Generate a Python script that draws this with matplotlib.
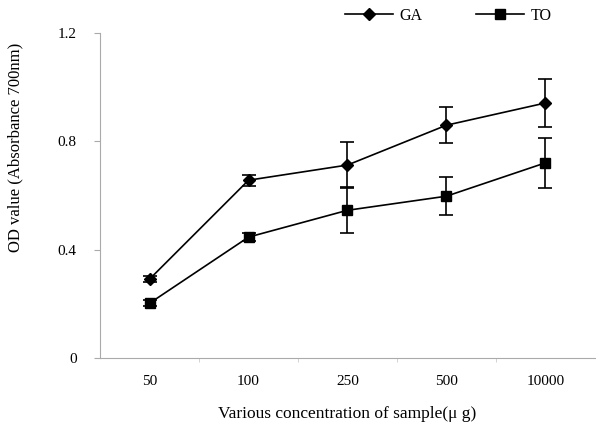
import matplotlib
matplotlib.use('Agg')
import matplotlib.pyplot as plt
from matplotlib.lines import Line2D
import numpy as np

categories = ['50', '100', '250', '500', '10000']
ga_values = [0.292, 0.657, 0.713, 0.860, 0.942]
ga_errors = [0.012, 0.020, 0.084, 0.067, 0.090]
to_values = [0.203, 0.447, 0.546, 0.598, 0.721]
to_errors = [0.010, 0.015, 0.085, 0.070, 0.093]
y_ticks = [0, 0.4, 0.8, 1.2]

plt.rcParams['font.family'] = ['Liberation Serif', 'DejaVu Serif']

fig = plt.figure(figsize=(5.96, 4.3), dpi=100)
ax = fig.add_axes([0.168, 0.167, 0.83, 0.756])

x = np.arange(len(categories))
ax.errorbar(x, ga_values, yerr=ga_errors, color='black', marker='D', markersize=6,
            linewidth=1.2, elinewidth=1.2, capsize=5, capthick=1.2)
ax.errorbar(x, to_values, yerr=to_errors, color='black', marker='s', markersize=7,
            linewidth=1.2, elinewidth=1.2, capsize=5, capthick=1.2)

ax.set_xlim(-0.5, len(categories) - 0.5)
ax.set_ylim(0, 1.2)
ax.set_yticks(y_ticks)
ax.set_yticklabels(['0', '0.4', '0.8', '1.2'])
ax.set_xticks(x)
ax.set_xticklabels(categories)
ax.set_xticks(np.arange(0.5, len(categories) - 0.5, 1), minor=True)
ax.tick_params(axis='x', which='major', length=0, pad=12, labelsize=11)
ax.tick_params(axis='x', which='minor', length=3, color='#cccccc')
ax.tick_params(axis='y', length=4, color='#aaaaaa', labelsize=11, pad=13)

for side in ['top', 'right']:
    ax.spines[side].set_visible(False)
ax.spines['left'].set_color('#aaaaaa')
ax.spines['bottom'].set_color('#aaaaaa')

ax.set_xlabel('Various concentration of sample(\u03bc g)', fontsize=12.5, labelpad=13)
ax.set_ylabel('OD value (Absorbance 700nm)', fontsize=12)
ax.yaxis.set_label_coords(-0.155, 0.65)

handles = [Line2D([], [], color='black', marker='D', markersize=6, linewidth=1.2),
           Line2D([], [], color='black', marker='s', markersize=7, linewidth=1.2)]
ax.legend(handles, ['GA', 'TO'], loc='lower left', bbox_to_anchor=(0.475, 1.0), ncol=2,
          frameon=False, fontsize=11.5, handlelength=3, handletextpad=0.4,
          columnspacing=3.4, borderaxespad=0.2)

plt.savefig('out.png', dpi=100)
